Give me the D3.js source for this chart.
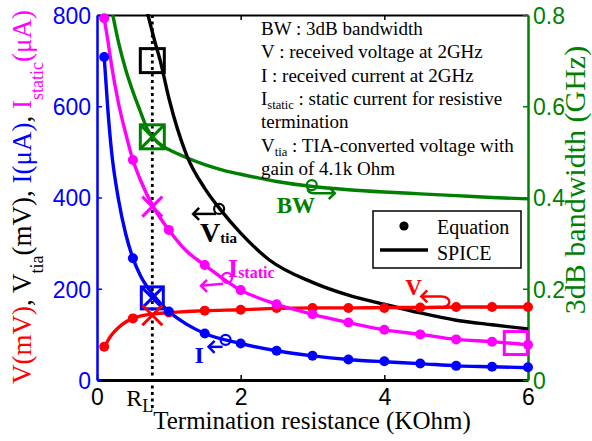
<!DOCTYPE html>
<html>
<head>
<meta charset="utf-8">
<script src="https://cdn.jsdelivr.net/npm/d3@7"></script>
<style>
  html, body { margin: 0; padding: 0; background: #fff; }
  svg { display: block; }
</style>
</head>
<body>
<script>
// ---- data -------------------------------------------------------------
// Termination resistance (KOhm) where the analytic equation was evaluated
const rEquation = [0.1, 0.5, 1, 1.5, 2, 2.5, 3, 3.5, 4, 4.5, 5, 5.5, 6];
const vEquation = [73, 135, 148, 152, 154, 158, 158, 158, 158, 159, 160, 160, 160];          // mV
const iEquation = [708, 267, 150, 102, 80, 64, 53, 45, 41, 36, 31, 29, 28];                   // uA
const iStaticEquation = [793, 482, 329, 252, 197, 166, 144, 126, 110, 100, 89, 84, 77];       // uA

// SPICE sweeps
const rSpice = [0.1, 0.15, 0.2, 0.3, 0.4, 0.5, 0.6, 0.8, 1, 1.25, 1.5, 2, 2.5, 3, 3.5, 4, 4.5, 5, 5.5, 6];
const vSpice = [70, 86, 98, 115, 127, 135, 140, 145, 148, 150, 152, 154, 157, 158, 158, 159, 159, 160, 160, 160];
const iSpice = [708, 595, 505, 395, 320, 267, 230, 183, 150, 122, 102, 80, 64, 53, 45, 40, 36, 31, 29, 27];
const iStaticSpice = [793, 745, 692, 606, 540, 482, 440, 375, 329, 282, 252, 197, 166, 144, 126, 110, 100, 89, 84, 77];

const rTia = [0.7, 0.8, 0.88, 1, 1.25, 1.5, 1.71, 2, 2.4, 3, 3.5, 4, 4.5, 5, 5.5, 6];
const vTia = [806, 745, 700, 618, 492, 420, 375, 322, 263, 214, 186, 166, 147, 131, 121, 112];  // mV

const rBw = [0.22, 0.3, 0.4, 0.5, 0.6, 0.7, 0.8, 0.9, 1, 1.25, 1.5, 1.75, 2, 2.5, 3, 3.5, 4, 4.5, 5, 5.5, 6];
const bw = [0.80, 0.74, 0.68, 0.632, 0.59, 0.55, 0.528, 0.514, 0.505, 0.487, 0.472, 0.46, 0.451,
            0.435, 0.424, 0.417, 0.412, 0.408, 0.404, 0.40, 0.397];                             // GHz

// operating point R_L and the values marked there
const rL = 0.77;
const markTia = 700, markBw = 0.533, markIStatic = 380, markI = 180, markV = 142;
const markIStaticEnd = { r: 5.83, v: 81 };

// ticks
const xTicks = [0, 2, 4, 6];
const yLeftTicks = [0, 200, 400, 600, 800];
const yRightTicks = [0, 0.2, 0.4, 0.6, 0.8];

const notes = [
  [["BW : 3dB bandwidth"]],
  [["V : received voltage at 2GHz"]],
  [["I : received current at 2GHz"]],
  [["I"], ["static", "sub"], [" : static current for resistive"]],
  [["termination"]],
  [["V"], ["tia", "sub"], ["  : TIA-converted voltage with"]],
  [["gain of 4.1k Ohm"]]
];

// ---- setup ------------------------------------------------------------
const RED = "#ff0000", BLUE = "#0000ff", MAG = "#ff00ff", GREEN = "#008000", BLACK = "#000";
const SERIF = "'Liberation Serif', 'Times New Roman', serif";
const SANS = "'Liberation Sans', Arial, sans-serif";

const W = 592, H = 441;
const svg = d3.select("body").append("svg").attr("width", W).attr("height", H);

const x = d3.scaleLinear().domain([0, 6]).range([97, 528]);
const yL = d3.scaleLinear().domain([0, 800]).range([380, 15]);
const yR = d3.scaleLinear().domain([0, 0.8]).range([380, 15]);

svg.append("defs").append("clipPath").attr("id", "plot")
  .append("rect").attr("x", x(0)).attr("y", yL(800) - 1)
  .attr("width", x(6) - x(0)).attr("height", yL(0) - yL(800) + 1);

// ---- axes -------------------------------------------------------------
// top frame line with mirrored x ticks
const topAxis = svg.append("g").attr("transform", `translate(0,${yL(800)})`)
  .call(d3.axisTop(x).tickValues(xTicks.slice(1, -1)).tickSizeInner(-5).tickSizeOuter(0).tickFormat(""));
topAxis.select(".domain").attr("stroke", BLACK).attr("stroke-width", 2.2);
topAxis.selectAll(".tick line").attr("stroke-width", 1.5);

const bottomAxis = svg.append("g").attr("transform", `translate(0,${yL(0)})`)
  .call(d3.axisBottom(x).tickValues(xTicks).tickSizeInner(-5).tickSizeOuter(0).tickPadding(9)
    .tickFormat(d3.format("d")));
bottomAxis.select(".domain").attr("stroke", BLACK).attr("stroke-width", 2.8);
bottomAxis.selectAll(".tick line").attr("stroke-width", 1.5);
bottomAxis.selectAll(".tick text").attr("font-family", SANS).attr("font-size", 23).attr("fill", BLACK);

const leftAxis = svg.append("g").attr("transform", `translate(${x(0)},0)`)
  .call(d3.axisLeft(yL).tickValues(yLeftTicks).tickSizeInner(-5).tickSizeOuter(0).tickPadding(6)
    .tickFormat(d3.format("d")));
leftAxis.select(".domain").attr("stroke", BLUE).attr("stroke-width", 2.5);
leftAxis.selectAll(".tick line").attr("stroke", BLUE).attr("stroke-width", 1.5);
leftAxis.selectAll(".tick text").attr("font-family", SANS).attr("font-size", 23).attr("fill", BLUE).attr("dy", "0.36em");

const rightAxis = svg.append("g").attr("transform", `translate(${x(6)},0)`)
  .call(d3.axisRight(yR).tickValues(yRightTicks).tickSizeInner(-5).tickSizeOuter(0).tickPadding(5)
    .tickFormat(d => d === 0 ? "0" : d3.format(".1f")(d)));
rightAxis.select(".domain").attr("stroke", GREEN).attr("stroke-width", 2.5);
rightAxis.selectAll(".tick line").attr("stroke", GREEN).attr("stroke-width", 1.5);
rightAxis.selectAll(".tick text").attr("font-family", SANS).attr("font-size", 23).attr("fill", GREEN).attr("dy", "0.36em");

// ---- R_L guide --------------------------------------------------------
svg.append("line")
  .attr("x1", x(rL)).attr("x2", x(rL)).attr("y1", yL(800)).attr("y2", yL(0) + 28)
  .attr("stroke", BLACK).attr("stroke-width", 2.8).attr("stroke-dasharray", "3,3.5");

const rlLabel = svg.append("text").attr("x", x(rL) + 1).attr("y", 406)
  .attr("text-anchor", "end").attr("font-family", SERIF).attr("font-size", 24).attr("fill", BLACK);
rlLabel.append("tspan").text("R");
rlLabel.append("tspan").attr("font-size", 18).attr("dy", 6).text("L");

// ---- curves -----------------------------------------------------------
const plot = svg.append("g").attr("clip-path", "url(#plot)");
const lineL = d3.line().x(d => x(d[0])).y(d => yL(d[1])).curve(d3.curveMonotoneX);
const lineR = d3.line().x(d => x(d[0])).y(d => yR(d[1])).curve(d3.curveMonotoneX);

function drawLine(path, color) {
  plot.append("path").attr("d", path).attr("fill", "none")
    .attr("stroke", color).attr("stroke-width", 3.4).attr("stroke-linejoin", "round");
}
drawLine(lineR(d3.zip(rBw, bw)), GREEN);
drawLine(lineL(d3.zip(rTia, vTia)), BLACK);
drawLine(lineL(d3.zip(rSpice, vSpice)), RED);
drawLine(lineL(d3.zip(rSpice, iSpice)), BLUE);
drawLine(lineL(d3.zip(rSpice, iStaticSpice)), MAG);

function drawDots(vals, color) {
  svg.append("g").selectAll("circle").data(d3.zip(rEquation, vals)).join("circle")
    .attr("cx", d => x(d[0])).attr("cy", d => yL(d[1])).attr("r", 5).attr("fill", color);
}
drawDots(vEquation, RED);
drawDots(iEquation, BLUE);
drawDots(iStaticEquation, MAG);

// ---- markers at R_L ---------------------------------------------------
const mk = svg.append("g").attr("fill", "none").attr("stroke-width", 3);
function square(cx, cy, color, s = 12) {
  mk.append("rect").attr("x", cx - s).attr("y", cy - s).attr("width", 2 * s).attr("height", 2 * s)
    .attr("stroke", color);
}
function cross(cx, cy, color, s = 10) {
  mk.append("path").attr("d", `M${cx - s},${cy - s}L${cx + s},${cy + s}M${cx - s},${cy + s}L${cx + s},${cy - s}`)
    .attr("stroke", color);
}
square(x(rL), yL(markTia), BLACK);
square(x(rL), yR(markBw), GREEN); cross(x(rL), yR(markBw), GREEN, 11);
cross(x(rL), yL(markIStatic), MAG);
square(x(rL), yL(markI), BLUE, 11); cross(x(rL), yL(markI), BLUE, 10);
cross(x(rL), yL(markV), RED);
square(x(markIStaticEnd.r), yL(markIStaticEnd.v), MAG, 11.5);

// ---- curve annotations ------------------------------------------------
const ann = svg.append("g");
function arrowHead(px, py, dir, color) {
  const s = 6;
  ann.append("path").attr("d", `M${px - dir * s},${py - s}L${px},${py}L${px - dir * s},${py + s}`)
    .attr("fill", "none").attr("stroke", color).attr("stroke-width", 2.5);
}
function pointer(cx, cy, path, tip, dir, color, withCircle = true) {
  if (withCircle) ann.append("circle").attr("cx", cx).attr("cy", cy).attr("r", 5)
    .attr("fill", "none").attr("stroke", color).attr("stroke-width", 2.2);
  ann.append("path").attr("d", path).attr("fill", "none").attr("stroke", color).attr("stroke-width", 2.5);
  arrowHead(tip[0], tip[1], dir, color);
}
function label(px, py, main, sub, color, size, subSize) {
  const t = ann.append("text").attr("x", px).attr("y", py).attr("font-family", SERIF)
    .attr("font-weight", "bold").attr("font-size", size).attr("fill", color);
  t.append("tspan").text(main);
  if (sub) t.append("tspan").attr("font-size", subSize).attr("dy", 1).text(sub);
}

// V_tia
{
  const cx = x(1.70), cy = yL(375);
  pointer(cx, cy, `M${cx - 3},${cy + 5}L${cx - 26},${cy + 5}`, [cx - 26, cy + 5], -1, BLACK);
  label(cx - 19, cy + 33, "V", "tia", BLACK, 28, 15);
}
// I_static
{
  const cx = x(1.81), cy = yL(224);
  pointer(cx, cy, `M${cx - 4},${cy + 6}L${cx - 26},${cy + 8}`, [cx - 26, cy + 8], -1, MAG);
  label(cx + 1, cy - 1, "I", "static", MAG, 26, 16);
}
// I
{
  const cx = x(1.79), cy = yL(88);
  pointer(cx, cy, `M${cx - 3},${cy + 7}L${cx - 17},${cy + 7}`, [cx - 17, cy + 7], -1, BLUE);
  label(cx - 31, cy + 23, "I", null, BLUE, 24);
}
// BW
{
  const cx = x(2.99), cy = yR(0.427);
  pointer(cx, cy, `M${cx - 4},${cy + 3}Q${cx - 4},${cy + 8} ${cx + 2},${cy + 8}L${cx + 23},${cy + 8}`,
    [cx + 23, cy + 8], 1, GREEN);
  label(cx - 35, cy + 28, "BW", null, GREEN, 23);
}
// V
{
  const cx = x(4.82), cy = yL(159);
  pointer(cx, cy, `M${cx - 3},${cy}C${cx + 9},${cy} ${cx + 9},${cy - 11} ${cx - 2},${cy - 11}L${cx - 22},${cy - 11}`,
    [cx - 22, cy - 11], -1, RED, false);
  label(cx - 38, cy - 12, "V", null, RED, 23);
}

// ---- legend -----------------------------------------------------------
const lg = svg.append("g");
lg.append("rect").attr("x", 373).attr("y", 211).attr("width", 148).attr("height", 57)
  .attr("fill", "#fff").attr("stroke", BLACK).attr("stroke-width", 1.5);
lg.append("circle").attr("cx", 404).attr("cy", 226).attr("r", 4.6).attr("fill", BLACK);
lg.append("line").attr("x1", 380).attr("x2", 428).attr("y1", 250).attr("y2", 250)
  .attr("stroke", BLACK).attr("stroke-width", 3.5);
lg.append("text").attr("x", 437).attr("y", 234).attr("font-family", SERIF).attr("font-size", 20).text("Equation");
lg.append("text").attr("x", 437).attr("y", 260).attr("font-family", SERIF).attr("font-size", 20).text("SPICE");

// ---- notes ------------------------------------------------------------
const noteG = svg.append("g").attr("font-family", SERIF).attr("font-size", 19).attr("fill", BLACK);
notes.forEach((parts, i) => {
  const t = noteG.append("text").attr("x", 261).attr("y", 35 + i * 23.3);
  let shifted = false;
  parts.forEach(([s, kind]) => {
    const sp = t.append("tspan").text(s);
    if (kind === "sub") { sp.attr("font-size", 12.5).attr("dy", 4); shifted = true; }
    else if (shifted) { sp.attr("dy", -4); shifted = false; }
  });
});

// ---- axis titles ------------------------------------------------------
svg.append("text").attr("x", 312).attr("y", 429).attr("text-anchor", "middle")
  .attr("font-family", SERIF).attr("font-size", 25).attr("fill", BLACK)
  .text("Termination resistance (KOhm)");

const leftTitle = svg.append("text").attr("transform", "translate(31,197) rotate(-90)")
  .attr("text-anchor", "middle").attr("font-family", SERIF).attr("font-size", 27);
[
  ["V(mV)", RED], [", V", BLACK], ["tia", BLACK, "sub"], ["(mV), ", BLACK],
  ["I(\u03bcA)", BLUE], [", ", BLACK], ["I", MAG], ["static", MAG, "sub"], ["(\u03bcA)", MAG]
].reduce((down, [s, c, kind]) => {
  const sp = leftTitle.append("tspan").attr("fill", c).text(s);
  if (kind === "sub") { sp.attr("font-size", 18).attr("dy", 12); return true; }
  if (down) sp.attr("dy", -12);
  return false;
}, false);

svg.append("text").attr("transform", "translate(585,180) rotate(-90)")
  .attr("text-anchor", "middle").attr("font-family", SERIF).attr("font-size", 30).attr("fill", GREEN)
  .text("3dB bandwidth (GHz)");
</script>
</body>
</html>
